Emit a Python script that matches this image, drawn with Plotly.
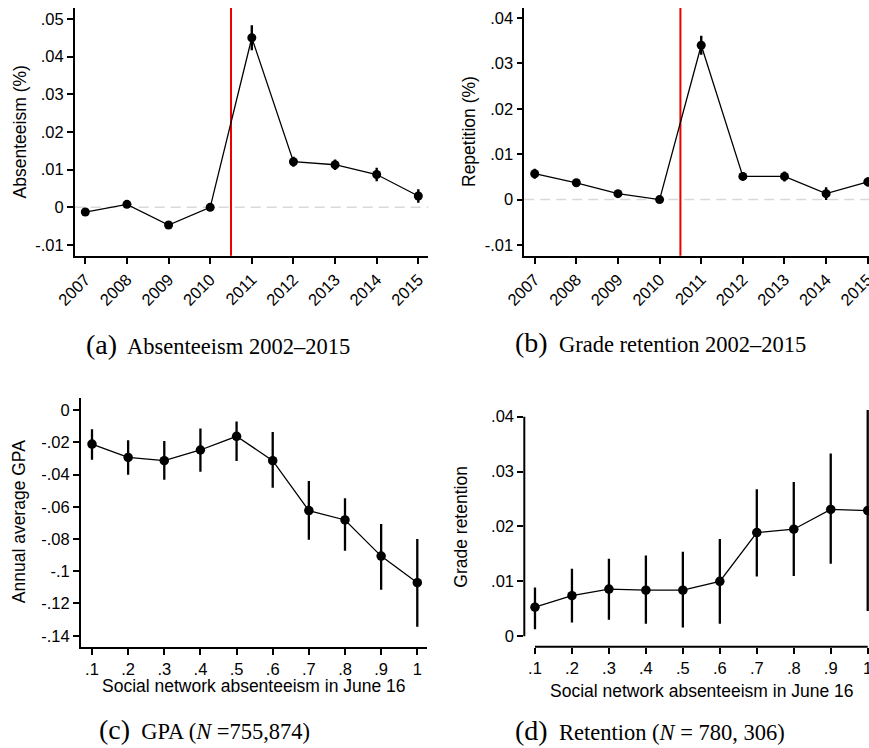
import plotly.graph_objects as go

W, H = 869, 748

# ---------------- data ----------------
years = [2007, 2008, 2009, 2010, 2011, 2012, 2013, 2014, 2015]
absent_coef = [-0.00125, 0.0008, -0.0047, 0.0, 0.0450, 0.0121, 0.0113, 0.0087, 0.0030]
absent_half = [0.0007, 0.0006, 0.0006, 0.0, 0.0033, 0.0013, 0.0014, 0.0018, 0.0018]
repeat_coef = [0.0057, 0.0037, 0.0013, 0.0, 0.0340, 0.0051, 0.0051, 0.0013, 0.0039]
repeat_half = [0.0011, 0.0008, 0.0008, 0.0, 0.0021, 0.0009, 0.0011, 0.0014, 0.0010]
policy_break = 2010.5

shares = [0.1, 0.2, 0.3, 0.4, 0.5, 0.6, 0.7, 0.8, 0.9, 1.0]
share_labels = [".1", ".2", ".3", ".4", ".5", ".6", ".7", ".8", ".9", "1"]
gpa_coef = [-0.0211, -0.0294, -0.0314, -0.0248, -0.0163, -0.0314, -0.0624, -0.0682, -0.0906, -0.1071]
gpa_hi = [-0.0120, -0.0188, -0.0192, -0.0114, -0.0072, -0.0137, -0.0440, -0.0548, -0.0707, -0.0800]
gpa_lo = [-0.0308, -0.0401, -0.0432, -0.0383, -0.0316, -0.0482, -0.0804, -0.0873, -0.1115, -0.1344]
ret_coef = [0.0053, 0.0074, 0.0086, 0.0084, 0.0084, 0.0100, 0.0189, 0.0195, 0.0231, 0.0229]
ret_hi = [0.0089, 0.0123, 0.0141, 0.0147, 0.0154, 0.0177, 0.0268, 0.0281, 0.0333, 0.0412]
ret_lo = [0.0013, 0.0025, 0.0030, 0.0023, 0.0016, 0.0023, 0.0109, 0.0110, 0.0132, 0.0046]

abs_ticks = [-0.01, 0, 0.01, 0.02, 0.03, 0.04, 0.05]
abs_ticktext = ["-.01", "0", ".01", ".02", ".03", ".04", ".05"]
rep_ticks = [-0.01, 0, 0.01, 0.02, 0.03, 0.04]
rep_ticktext = ["-.01", "0", ".01", ".02", ".03", ".04"]
gpa_ticks = [0, -0.02, -0.04, -0.06, -0.08, -0.1, -0.12, -0.14]
gpa_ticktext = ["0", "-.02", "-.04", "-.06", "-.08", "-.1", "-.12", "-.14"]
ret_ticks = [0, 0.01, 0.02, 0.03, 0.04]
ret_ticktext = ["0", ".01", ".02", ".03", ".04"]

# ---------------- helpers ----------------
def px(x):
    return x / W

def py(y):
    return 1 - y / H

SANS = "Liberation Sans, Arial, sans-serif"
SERIF = "Liberation Serif, Times New Roman, serif"
TICKFONT = dict(family=SANS, size=16.5, color="black")

fig = go.Figure()

def err(coef, lo, hi):
    return [h - c for c, h in zip(coef, hi)], [c - l for c, l in zip(coef, lo)]

# (a)
fig.add_trace(go.Scatter(
    x=years, y=absent_coef, mode="lines+markers", xaxis="x", yaxis="y",
    line=dict(color="black", width=1.3), marker=dict(color="black", size=9),
    error_y=dict(type="data", array=absent_half, color="black", thickness=2.4, width=0),
    showlegend=False))
# (b)
fig.add_trace(go.Scatter(
    x=years, y=repeat_coef, mode="lines+markers", xaxis="x2", yaxis="y2",
    line=dict(color="black", width=1.3), marker=dict(color="black", size=9),
    error_y=dict(type="data", array=repeat_half, color="black", thickness=2.4, width=0),
    showlegend=False))
# (c)
up, dn = err(gpa_coef, gpa_lo, gpa_hi)
fig.add_trace(go.Scatter(
    x=shares, y=gpa_coef, mode="lines+markers", xaxis="x3", yaxis="y3",
    line=dict(color="black", width=1.3), marker=dict(color="black", size=9.5),
    error_y=dict(type="data", symmetric=False, array=up, arrayminus=dn,
                 color="black", thickness=2.3, width=0),
    showlegend=False))
# (d)
up, dn = err(ret_coef, ret_lo, ret_hi)
fig.add_trace(go.Scatter(
    x=shares, y=ret_coef, mode="lines+markers", xaxis="x4", yaxis="y4",
    line=dict(color="black", width=1.3), marker=dict(color="black", size=9.5),
    error_y=dict(type="data", symmetric=False, array=up, arrayminus=dn,
                 color="black", thickness=2.3, width=0),
    showlegend=False))

def xax(domain, rng, anchor, tickvals, ticktext, angle=0, line=True, lw=1.6):
    return dict(domain=domain, range=rng, anchor=anchor, tickmode="array",
                tickvals=tickvals, ticktext=ticktext, tickangle=angle,
                showgrid=False, zeroline=False, showline=line, linecolor="black",
                linewidth=lw, ticks="outside", ticklen=6, tickwidth=lw,
                tickcolor="black", tickfont=TICKFONT, automargin=False,
                ticklabeloverflow="allow")

def yax(domain, rng, anchor, tickvals, ticktext, line=True, lw=1.6):
    return dict(domain=domain, range=rng, anchor=anchor, tickmode="array",
                tickvals=tickvals, ticktext=ticktext,
                showgrid=False, zeroline=False, showline=line, linecolor="black",
                linewidth=lw, ticks="outside", ticklen=6, tickwidth=lw,
                tickcolor="black", tickfont=TICKFONT, automargin=False,
                ticklabeloverflow="allow")

top_dom = [py(255.7), py(8)]
bot_dom = [py(646.7), py(398.3)]

fig.update_layout(
    template="none",
    width=W, height=H, margin=dict(l=0, r=0, t=0, b=0, autoexpand=False),
    paper_bgcolor="white", plot_bgcolor="white",
    xaxis=xax([px(74.7), px(428.3)], [2006.745, 2015.24], "y", years, [str(v) for v in years], angle=-45),
    yaxis=yax(top_dom, [-0.01284, 0.0529], "x", abs_ticks, abs_ticktext),
    xaxis2=xax([px(524.3), 1.0], [2006.75, 2015.03], "y2", years, [str(v) for v in years], angle=-45),
    yaxis2=yax(top_dom, [-0.01236, 0.0422], "x2", rep_ticks, rep_ticktext),
    xaxis3=xax([px(81), px(427.3)], [0.0696, 1.0277], "y3", shares, share_labels, lw=2),
    yaxis3=yax(bot_dom, [-0.1468, 0.00726], "x3", gpa_ticks, gpa_ticktext, lw=2),
    xaxis4=xax([px(524.3), 1.0], [0.0711, 1.0035], "y4", shares, share_labels, line=False, lw=2),
    yaxis4=yax(bot_dom, [-0.0019, 0.04335], "x4", ret_ticks, ret_ticktext, line=False, lw=2),
)

shapes = []
# zero reference lines and policy line for (a), (b)
for xr, yr in [("x", "y"), ("x2", "y2")]:
    shapes.append(dict(type="line", xref=xr + " domain", yref=yr, x0=0, x1=1, y0=0, y1=0,
                       line=dict(color="#d9d9d9", width=1.5, dash="10px,6px"), layer="below"))
    shapes.append(dict(type="line", xref=xr, yref=yr + " domain", x0=policy_break, x1=policy_break,
                       y0=0, y1=1, line=dict(color="#ee0000", width=2), layer="below"))
# detached axes for (d)
shapes.append(dict(type="line", xref="x4", yref="y4 domain", x0=shares[0], x1=shares[-1], y0=0, y1=0,
                   line=dict(color="black", width=2)))
shapes.append(dict(type="line", xref="x4 domain", yref="y4", x0=0, x1=0, y0=ret_ticks[0], y1=ret_ticks[-1],
                   line=dict(color="black", width=2)))
fig.update_layout(shapes=shapes)

ann = []
def title(text, x, y, angle=0):
    ann.append(dict(text=text, x=px(x), y=py(y), xref="paper", yref="paper", showarrow=False,
                    textangle=angle, xanchor="center", yanchor="middle",
                    font=dict(family=SANS, size=17.5, color="black")))

title("Absenteeism (%)", 19.7, 131.7, -90)
title("Repetition (%)", 468.3, 131.7, -90)
title("Annual average GPA", 18.5, 521.7, -90)
title("Grade retention", 461, 526.7, -90)
title("Social network absenteeism in June 16", 254, 686)
title("Social network absenteeism in June 16", 702, 691)

def caption(letter, text, x, y):
    ann.append(dict(text="<span style='font-size:28px'>(" + letter + ")</span>&nbsp; " + text,
                    x=px(x), y=py(y), xref="paper", yref="paper", showarrow=False,
                    xanchor="left", yanchor="middle",
                    font=dict(family=SERIF, size=22.5, color="black")))

caption("a", "Absenteeism 2002–2015", 84, 345)
caption("b", "Grade retention 2002–2015", 512.7, 343)
caption("c", "GPA (<i>N</i> =755,874)", 96.7, 729)
caption("d", "Retention (<i>N</i> = 780, 306)", 513, 730)

fig.update_layout(annotations=ann)

fig.write_html("out.html")
